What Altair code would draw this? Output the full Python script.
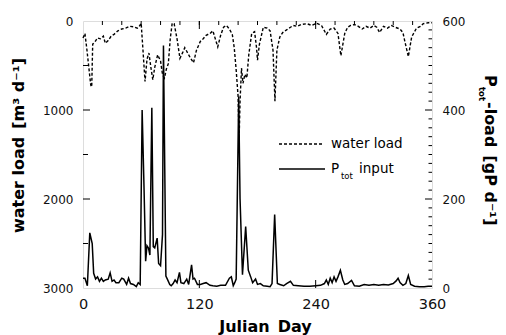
import altair as alt
import pandas as pd

# ---- data ----
wl_day = [0, 2, 4, 6, 8, 9, 10, 12, 15, 18, 21, 23, 26, 29, 32, 36, 40, 44, 48, 52, 56, 58, 60, 62, 64, 66, 68, 70, 72, 74, 77, 80, 82, 84, 86, 88, 90, 92, 94, 97, 100, 103, 105, 108, 111, 114, 117, 121, 124, 127, 131, 134, 137, 139, 142, 145, 148, 151, 154, 156, 158, 160, 161, 162, 163.5, 165, 167, 169, 171, 174, 177, 179, 180, 182, 186, 190, 193, 196, 198, 200, 203, 206, 210, 214, 217, 221, 225, 231, 236, 241, 246, 251, 255, 259, 263, 266, 270, 273, 276, 280, 284, 288, 292, 296, 300, 303, 306, 310, 314, 318, 322, 327, 330, 332, 335.6, 339, 344, 348, 351, 356, 360]
wl_val = [190, 140, 320, 520, 720, 740, 260, 240, 190, 200, 170, 250, 220, 170, 150, 110, 90, 80, 60, 65, 80, 60, 25, 350, 680, 430, 360, 520, 660, 520, 380, 450, 600, 640, 540, 480, 200, 25, 30, 200, 420, 350, 300, 360, 420, 470, 330, 230, 200, 160, 140, 110, 220, 290, 160, 70, 50, 90, 150, 300, 550, 850, 1350, 900, 530, 700, 600, 640, 380, 140, 120, 300, 440, 260, 70, 80, 110, 330, 900, 330, 180, 130, 100, 70, 50, 60, 40, 30, 50, 25, 50, 150, 90, 80, 140, 390, 140, 70, 50, 40, 60, 90, 60, 80, 50, 70, 130, 60, 80, 50, 70, 90, 130, 230, 400, 180, 80, 60, 30, 20, 20]

p_day = [0, 2, 4.5, 7, 9.5, 11, 13, 15, 17, 19, 21, 23, 26, 28, 30, 32, 34, 37, 40, 42, 45, 47, 49, 52, 55, 57, 59, 61, 63, 64.6, 66, 67.5, 69, 71, 72.5, 74, 76.5, 78, 80, 82, 83, 85.5, 87, 89.5, 91, 93, 95, 97, 99.5, 101, 104, 107, 109, 112, 113.5, 115, 118, 121, 124, 127, 131, 134, 138, 142, 147, 151, 153, 155, 156.5, 158, 160.6, 162, 164.5, 167.8, 170.5, 173, 175, 178, 180, 183, 186, 190, 193, 195, 197.7, 200.5, 203, 207, 210, 214, 217, 222, 228, 234, 240, 245, 249, 251, 253, 255, 257, 259, 261, 263, 265.5, 268, 270, 273, 277, 280, 285, 290, 295, 300, 305, 310, 315, 320, 323, 325, 327, 330, 333, 335.6, 338, 342, 347, 352, 356, 360]
p_val = [22, 22, 5, 124, 100, 33, 20, 25, 15, 22, 15, 18, 20, 34, 15, 18, 12, 12, 22, 20, 8, 22, 10, 8, 3, 12, 8, 400, 220, 60, 95, 90, 74, 405, 93, 90, 112, 55, 50, 120, 545, 27, 20, 8, 5, 10, 18, 12, 35, 12, 10, 20, 8, 52, 20, 22, 8, 8, 10, 12, 6, 5, 4, 6, 6, 22, 25, 5, 12, 20, 430, 200, 30, 138, 40, 25, 12, 20, 8, 10, 5, 4, 3, 10, 165, 10, 8, 5, 10, 15, 6, 5, 4, 4, 5, 6, 10, 18, 8, 22, 12, 25, 15, 25, 40, 18, 8, 10, 17, 5, 4, 8, 6, 8, 6, 8, 7, 10, 16, 22, 12, 6, 10, 28, 8, 4, 3, 3, 4, 4]

x_labels = [0, 120, 240, 360]
wl_labels = [0, 1000, 2000, 3000]
p_labels = [0, 200, 400, 600]
top_minor = list(range(20, 360, 20))
wl_minor = [500, 1500, 2500]
p_minor = [v for v in range(20, 600, 20) if v % 200 != 0]

W, H = 349, 267
FONT = "DejaVu Sans"
SP = "\u2002"

wl_df = pd.DataFrame({"day": wl_day, "wl": wl_val})
p_df = pd.DataFrame({"day": p_day, "p": p_val})

xs = alt.Scale(domain=[0, 360], nice=False, zero=False)
wl_scale = alt.Scale(domain=[0, 3000], reverse=True, nice=False, zero=False)
p_scale = alt.Scale(domain=[0, 600], nice=False, zero=False)

x_enc = alt.X("day:Q", scale=xs, axis=alt.Axis(
    values=x_labels, format="d", ticks=False, tickSize=0, domain=False, grid=False,
    labelFlush=False, labelOverlap=False,
    labelFont=FONT, labelFontSize=14.5, labelColor="#111", labelPadding=9,
    title="Julian" + SP + "Day", titleFont=FONT, titleFontSize=16, titleFontWeight="bold",
    titleColor="black", titleX=182, titleY=43, titleBaseline="alphabetic",
    titleAlign="center"))

water = alt.Chart(wl_df).mark_line(color="black", strokeWidth=1.4, strokeDash=[3, 2]).encode(
    x=x_enc,
    y=alt.Y("wl:Q", scale=wl_scale, axis=alt.Axis(
        orient="left", values=wl_labels, format="d", ticks=False, tickSize=0, domain=False,
        grid=False, labelFlush=False, labelOverlap=False,
        labelFont=FONT, labelFontSize=12, labelColor="#111", labelPadding=10,
        title="water load" + SP + "[m³ d⁻¹]", titleFont=FONT, titleFontSize=16,
        titleFontWeight="bold", titleColor="black", titleAngle=270,
        titleX=-65, titleY=124, titleAlign="center", titleBaseline="middle")),
)

pin = alt.Chart(p_df).mark_line(color="black", strokeWidth=1.5).encode(
    x=x_enc,
    y=alt.Y("p:Q", scale=p_scale, axis=alt.Axis(
        orient="right", values=p_labels, format="d", ticks=False, tickSize=0, domain=False,
        grid=False, labelFlush=False, labelOverlap=False,
        labelFont=FONT, labelFontSize=12, labelColor="#111", labelPadding=10, title=None)),
)

# inward tick marks
def xticks(vals, length, bottom):
    df = pd.DataFrame({"day": vals})
    if bottom:
        ys, ye = H, H - length
    else:
        ys, ye = 0, length
    return alt.Chart(df).mark_rule(color="black", strokeWidth=1).encode(
        x=x_enc, y=alt.value(ys), y2=alt.value(ye))

def wlticks(vals, length):
    df = pd.DataFrame({"v": vals})
    return alt.Chart(df).mark_rule(color="black", strokeWidth=1).encode(
        y=alt.Y("v:Q", scale=wl_scale, axis=None), x=alt.value(0), x2=alt.value(length))

def pticks(vals, length):
    df = pd.DataFrame({"v": vals})
    return alt.Chart(df).mark_rule(color="black", strokeWidth=1).encode(
        y=alt.Y("v:Q", scale=p_scale, axis=None), x=alt.value(W), x2=alt.value(W - length))

one = pd.DataFrame({"a": [0]})

def txt(s, x, y, size, weight="normal", angle=0, baseline="middle"):
    return alt.Chart(one).mark_text(
        text=s, font=FONT, fontSize=size, fontWeight=weight, angle=angle,
        align="left", baseline=baseline, color="black").encode(
        x=alt.value(x), y=alt.value(y))

leg_dash = alt.Chart(one).mark_rule(color="black", strokeWidth=1.4, strokeDash=[3, 2]).encode(
    x=alt.value(196), x2=alt.value(239), y=alt.value(123))
leg_solid = alt.Chart(one).mark_rule(color="black", strokeWidth=1.5).encode(
    x=alt.value(196), x2=alt.value(242), y=alt.value(148))

layers = [
    water, pin,
    xticks(x_labels[1:-1], 8, True),
    xticks(top_minor, 4, False),
    xticks([120, 240], 8, False),
    wlticks(wl_labels[1:-1], 7), wlticks(wl_minor, 5),
    pticks(p_labels[1:-1], 7), pticks(p_minor, 3.5),
    leg_dash, leg_solid,
    txt("water load", 248, 122.5, 13.5),
    txt("P", 248, 152, 13.5, baseline="alphabetic"),
    txt("tot", 258, 157.5, 8.5, baseline="alphabetic"),
    txt("input", 276, 152, 13.5, baseline="alphabetic"),
    txt("P", 407, 54, 16, weight="bold", angle=90),
    txt("tot", 398.5, 66, 8.5, weight="bold", angle=90),
    txt("-load" + SP + "[gP d⁻¹]", 407, 81, 16, weight="bold", angle=90),
]

chart = alt.layer(*layers).resolve_scale(y="independent").properties(
    width=W, height=H,
    padding={"left": 83, "top": 21, "right": 74, "bottom": 47},
    autosize="none",
).configure_view(stroke="black", strokeWidth=2.5).configure(background="white")

chart.save("out.html", embed_options={"renderer": "svg", "actions": False})
